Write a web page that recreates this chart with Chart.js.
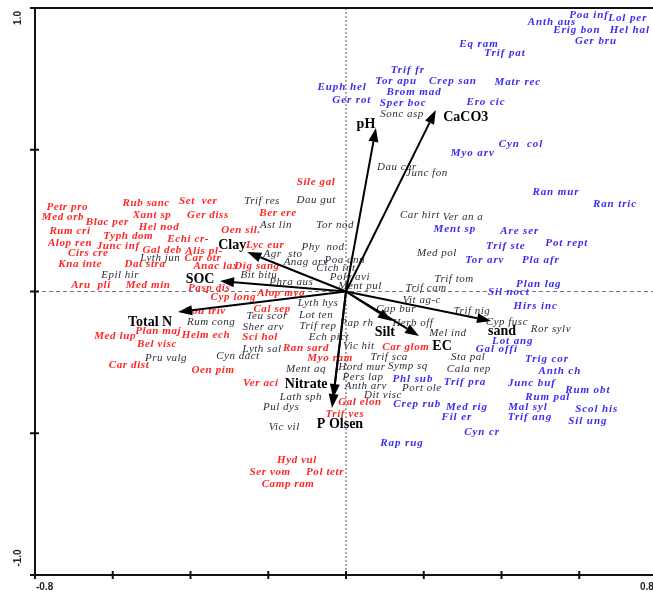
<!DOCTYPE html>
<html>
<head>
<meta charset="utf-8">
<script src="https://cdn.jsdelivr.net/npm/chart.js@4.4.1/dist/chart.umd.min.js"></script>
<style>
  html, body { margin: 0; padding: 0; background: #ffffff; overflow: hidden; }
  #wrap { width: 653px; height: 592px; overflow: hidden; position: relative; }
  canvas { display: block; }
</style>
</head>
<body>
<div id="wrap"><canvas id="cca" width="660" height="592"></canvas></div>
<script>
// ---- Species scores (axis 1, axis 2), grouped by label colour ----
const blueNames = ['Poa inf','Lol per','Anth aus','Erig bon','Hel hal','Ger bru','Eq ram','Trif pat',
  'Trif fr','Tor apu','Crep san','Matr rec','Euph hel','Brom mad','Ger rot','Sper boc','Ero cic',
  'Cyn  col','Myo arv','Ran mur','Ran tric','Ment sp','Are ser','Trif ste','Pot rept','Tor arv',
  'Pla afr','Plan lag','Sil noct','Hirs inc','Lot ang','Gal offi','Trig cor','Anth ch','Junc buf',
  'Rum obt','Rum pal','Mal syl','Scol his','Trif ang','Sil ung','Phl sub','Trif pra','Crep rub',
  'Med rig','Fil er','Cyn cr','Rap rug'];
const blueAx1 = [0.625,0.725,0.530,0.594,0.730,0.643,0.342,0.409,
  0.159,0.129,0.275,0.442,-0.010,0.175,0.015,0.147,0.360,
  0.450,0.326,0.540,0.692,0.280,0.447,0.411,0.568,0.357,
  0.501,0.496,0.419,0.488,0.429,0.388,0.517,0.550,0.478,
  0.622,0.519,0.468,0.645,0.473,0.622,0.172,0.306,0.183,
  0.311,0.285,0.350,0.144];
const blueAx2 = [0.975,0.965,0.951,0.922,0.922,0.884,0.873,0.841,
  0.781,0.742,0.742,0.739,0.721,0.704,0.675,0.665,0.668,
  0.520,0.489,0.351,0.309,0.220,0.213,0.160,0.171,0.111,
  0.111,0.026,-0.002,-0.051,-0.175,-0.203,-0.238,-0.280,-0.323,
  -0.347,-0.372,-0.407,-0.414,-0.443,-0.457,-0.309,-0.319,-0.397,
  -0.407,-0.443,-0.496,-0.534];

const redNames = ['Sile gal','Petr pro','Rub sanc','Set  ver','Med orb','Xant sp','Ger diss','Ber ere',
  'Blac per','Hel nod','Rum cri','Oen sil.','Typh dom','Echi cr-','Alop ren','Lyc eur','Junc inf',
  'Gal deb','Alis pl-','Cirs cre','Car otr','Kna inte','Dat stra','Anac lax','Dig sang','Aru  pli',
  'Med min','Pasp dis','Alop myo','Cyp long','Pou triv','Cal sep','Plan maj','Med lup','Helm ech',
  'Sci hol','Bel visc','Ran sard','Car glom','Myo ram','Car dist','Oen pim','Ver aci','Gal elon',
  'Trif ves','Hyd vul','Ser vom','Pol tetr','Camp ram'];
const redAx1 = [-0.077,-0.717,-0.514,-0.380,-0.728,-0.499,-0.355,-0.175,
  -0.614,-0.481,-0.710,-0.270,-0.560,-0.406,-0.710,-0.208,-0.586,
  -0.473,-0.365,-0.663,-0.368,-0.684,-0.517,-0.334,-0.229,-0.656,
  -0.509,-0.352,-0.167,-0.290,-0.362,-0.190,-0.483,-0.594,-0.360,
  -0.221,-0.486,-0.103,0.154,-0.041,-0.558,-0.342,-0.219,0.036,
  -0.003,-0.126,-0.195,-0.054,-0.149];
const redAx2 = [0.386,0.298,0.312,0.319,0.263,0.270,0.270,0.277,
  0.245,0.227,0.213,0.217,0.196,0.185,0.171,0.164,0.160,
  0.146,0.143,0.136,0.118,0.097,0.097,0.090,0.090,0.023,
  0.023,0.012,-0.005,-0.019,-0.069,-0.062,-0.139,-0.157,-0.153,
  -0.160,-0.185,-0.199,-0.196,-0.235,-0.259,-0.277,-0.323,-0.390,
  -0.432,-0.594,-0.637,-0.637,-0.679];

const darkNames = ['Sonc asp','Dau car','Junc fon','Trif res','Dau gut','Car hirt','Ver an a','Ast lin',
  'Tor nod','Phy  nod','Med pol','Agr  sto','Lyth jun','Poa ann','Anag arv','Cich int','Epil hir',
  'Bit bitu','Poly avi','Trif tom','Phra aus','Ment pul','Trif cam','Vit ag-c','Lyth hys','Cap bur',
  'Trif nig','Teu scor','Lot ten','Rum cong','Cyp fusc','Pap rh','Herb off','Sher arv','Trif rep',
  'Ror sylv','Mel ind','Ech pict','Vic hit','Lyth sal','Cyn dact','Trif sca','Sta pal','Pru vulg',
  'Hord mur','Symp sq','Cala nep','Ment aq','Pers lap','Anth arv','Port ole','Dit visc','Lath sph',
  'Pul dys','Vic vil'];
const darkAx1 = [0.144,0.131,0.208,-0.216,-0.077,0.190,0.301,-0.180,
  -0.028,-0.059,0.234,-0.162,-0.478,-0.003,-0.103,-0.026,-0.581,
  -0.224,0.010,0.278,-0.141,0.036,0.206,0.195,-0.072,0.129,
  0.324,-0.203,-0.077,-0.347,0.414,0.028,0.172,-0.213,-0.072,
  0.527,0.262,-0.044,0.033,-0.216,-0.278,0.111,0.314,-0.463,
  0.041,0.159,0.316,-0.103,0.044,0.051,0.195,0.095,-0.116,
  -0.167,-0.159];
const darkAx2 = [0.626,0.439,0.418,0.319,0.323,0.270,0.263,0.235,
  0.235,0.157,0.136,0.132,0.118,0.111,0.104,0.083,0.058,
  0.058,0.051,0.044,0.034,0.019,0.012,-0.030,-0.041,-0.062,
  -0.069,-0.086,-0.083,-0.108,-0.108,-0.111,-0.111,-0.125,-0.122,
  -0.132,-0.146,-0.160,-0.192,-0.203,-0.228,-0.231,-0.231,-0.235,
  -0.266,-0.263,-0.273,-0.273,-0.302,-0.333,-0.340,-0.365,-0.372,
  -0.407,-0.478];

// ---- Environmental variable vectors (biplot arrows) ----
const envNames = ['pH','CaCO3','Clay','SOC','Total N','Silt','EC','sand','Nitrate','P Olsen'];
const envAx1 = [0.077,0.231,-0.254,-0.324,-0.432,0.118,0.188,0.373,-0.033,-0.036];
const envAx2 = [0.577,0.640,0.139,0.037,-0.072,-0.104,-0.157,-0.104,-0.376,-0.411];

// ---- Axis ticks ----
const xTickValues = [-0.8,-0.6,-0.4,-0.2,0,0.2,0.4,0.6,0.8];
const yTickValues = [-1.0,-0.5,0,0.5,1.0];
const xTickLabels = ['-0.8','0.8'];
const yTickLabels = ['1.0','-1.0'];

function points(ax1, ax2) { return ax1.map((v, i) => ({ x: v, y: ax2[i] })); }

// pixel offsets of the variable names from their arrow tips
const envLabelOffset = {
  'pH': [-10, -4], 'CaCO3': [30, 7], 'Clay': [-15, -7], 'SOC': [-20, -2],
  'Total N': [-28, 10], 'Silt': [-7, 11], 'EC': [23, 10], 'sand': [11, 10],
  'Nitrate': [-27, -14], 'P Olsen': [8, 16]
};

const biplotPlugin = {
  id: 'biplot',
  beforeDatasetsDraw(chart) {
    const { ctx, chartArea: a, scales: { x, y } } = chart;
    const x0 = x.getPixelForValue(0), y0 = y.getPixelForValue(0);
    ctx.save();
    // zero lines
    ctx.lineWidth = 1;
    ctx.strokeStyle = '#555';
    ctx.setLineDash([2, 2]);
    ctx.beginPath(); ctx.moveTo(x0, a.top); ctx.lineTo(x0, a.bottom); ctx.stroke();
    ctx.setLineDash([4, 3]);
    ctx.strokeStyle = '#777';
    ctx.beginPath(); ctx.moveTo(a.left, y0); ctx.lineTo(a.right, y0); ctx.stroke();
    ctx.setLineDash([]);
    // frame: left axis, top and bottom lines
    ctx.strokeStyle = '#111';
    ctx.lineWidth = 2;
    ctx.beginPath();
    ctx.moveTo(a.left - 5, a.top); ctx.lineTo(a.right, a.top);
    ctx.moveTo(a.left, a.top); ctx.lineTo(a.left, a.bottom);
    ctx.moveTo(a.left - 5, a.bottom); ctx.lineTo(a.right, a.bottom);
    ctx.stroke();
    // ticks
    ctx.beginPath();
    xTickValues.forEach(v => {
      const px = x.getPixelForValue(v);
      ctx.moveTo(px, a.bottom - 4); ctx.lineTo(px, a.bottom + 4);
    });
    yTickValues.forEach(v => {
      const py = y.getPixelForValue(v);
      ctx.moveTo(a.left - 5, py); ctx.lineTo(a.left + 4, py);
    });
    ctx.stroke();
    // tick labels
    ctx.fillStyle = '#222';
    ctx.font = 'bold 10px "Liberation Sans", Arial, sans-serif';
    ctx.textBaseline = 'middle';
    ctx.textAlign = 'left';
    ctx.fillText(xTickLabels[0], x.getPixelForValue(-0.8) + 1, a.bottom + 12);
    ctx.fillText(xTickLabels[1], x.getPixelForValue(0.8) - 17, a.bottom + 12);
    ctx.textAlign = 'center';
    [[yTickLabels[0], y.getPixelForValue(1.0) + 10], [yTickLabels[1], y.getPixelForValue(-1.0) - 17]]
      .forEach(([t, py]) => {
        ctx.save();
        ctx.translate(a.left - 17, py);
        ctx.rotate(-Math.PI / 2);
        ctx.fillText(t, 0, 0);
        ctx.restore();
      });
    ctx.restore();
  },
  afterDatasetsDraw(chart) {
    const { ctx, scales: { x, y } } = chart;
    ctx.save();
    ctx.textAlign = 'center';
    ctx.textBaseline = 'middle';
    // species names at their scores
    chart.data.datasets.forEach(ds => {
      if (!ds.names) return;
      ctx.font = ds.labelFont;
      ctx.fillStyle = ds.labelColor;
      ctx.letterSpacing = ds.labelSpacing;
      ds.data.forEach((p, i) => {
        ctx.fillText(ds.names[i], x.getPixelForValue(p.x), y.getPixelForValue(p.y));
      });
    });
    ctx.letterSpacing = '0px';
    // environmental arrows
    const ox = x.getPixelForValue(0), oy = y.getPixelForValue(0);
    ctx.strokeStyle = '#000';
    ctx.fillStyle = '#000';
    ctx.lineWidth = 2;
    envNames.forEach((n, i) => {
      const tx = x.getPixelForValue(envAx1[i]), ty = y.getPixelForValue(envAx2[i]);
      const ang = Math.atan2(ty - oy, tx - ox);
      const L = 14, W = 5;
      const bx = tx - L * Math.cos(ang), by = ty - L * Math.sin(ang);
      ctx.beginPath(); ctx.moveTo(ox, oy); ctx.lineTo(bx, by); ctx.stroke();
      ctx.beginPath();
      ctx.moveTo(tx, ty);
      ctx.lineTo(bx + W * Math.sin(ang), by - W * Math.cos(ang));
      ctx.lineTo(bx - W * Math.sin(ang), by + W * Math.cos(ang));
      ctx.closePath(); ctx.fill();
    });
    ctx.font = 'bold 14px "Liberation Serif", "Times New Roman", serif';
    envNames.forEach((n, i) => {
      const off = envLabelOffset[n] || [0, 0];
      ctx.fillText(n, x.getPixelForValue(envAx1[i]) + off[0], y.getPixelForValue(envAx2[i]) + off[1]);
    });
    ctx.restore();
  }
};

new Chart(document.getElementById('cca'), {
  type: 'scatter',
  data: {
    datasets: [
      { label: 'blue', names: blueNames, data: points(blueAx1, blueAx2),
        labelColor: '#3a2cf2', labelFont: 'italic bold 11px "Liberation Serif", "Times New Roman", serif', labelSpacing: '0.9px',
        pointRadius: 0 },
      { label: 'red', names: redNames, data: points(redAx1, redAx2),
        labelColor: '#ff2525', labelFont: 'italic bold 11px "Liberation Serif", "Times New Roman", serif', labelSpacing: '0.6px',
        pointRadius: 0 },
      { label: 'dark', names: darkNames, data: points(darkAx1, darkAx2),
        labelColor: '#2e2e3a', labelFont: 'italic 11px "Liberation Serif", "Times New Roman", serif', labelSpacing: '0.5px',
        pointRadius: 0 }
    ]
  },
  options: {
    responsive: false,
    animation: false,
    events: [],
    layout: { padding: { left: 35, right: 3, top: 8, bottom: 17 } },
    plugins: { legend: { display: false }, tooltip: { enabled: false } },
    scales: {
      x: { type: 'linear', min: -0.8, max: 0.8, display: false },
      y: { type: 'linear', min: -1.0, max: 1.0, display: false }
    }
  },
  plugins: [biplotPlugin]
});
</script>
</body>
</html>
